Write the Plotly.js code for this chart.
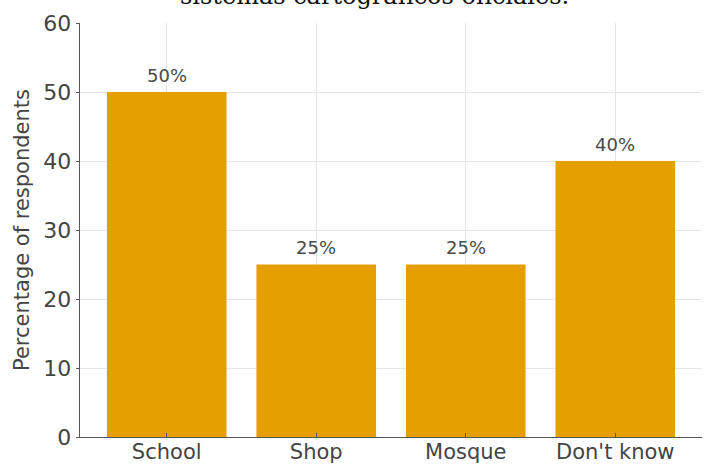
<!DOCTYPE html>
<html>
<head>
<meta charset="utf-8">
<script src="https://cdn.plot.ly/plotly-3.0.1.min.js"></script>
<style>
html,body{margin:0;padding:0;background:#fff;}
#chart{width:706px;height:465px;}
</style>
</head>
<body>
<div id="chart"></div>
<script>
const categories = ["School", "Shop", "Mosque", "Don't know"];
const percentages = [50, 25, 25, 40];
const barLabels = ["50%", "25%", "25%", "40%"];
const yTickValues = [0, 10, 20, 30, 40, 50, 60];
const captionText = "sistemas cartográficos oficiales.";

const barTrace = {
  type: "bar",
  x: categories,
  y: percentages,
  width: 0.8,
  marker: {color: "#E69F00", line: {width: 0}},
  hoverinfo: "skip"
};

const labelAnnotations = categories.map((c, i) => ({
  x: c, y: percentages[i], xref: "x", yref: "y",
  text: barLabels[i], showarrow: false,
  yanchor: "middle", yshift: 17,
  font: {family: "DejaVu Sans", size: 18, color: "#4a4a4a"}
}));

const captionAnnotation = {
  xref: "paper", yref: "paper", x: 0.4735, y: 1.026,
  xanchor: "center", yanchor: "bottom",
  text: captionText, showarrow: false,
  font: {family: "DejaVu Serif", size: 24, color: "#111"}
};

const layout = {
  width: 706, height: 465,
  margin: {l: 80, r: 4, t: 23, b: 28, pad: 0},
  paper_bgcolor: "#fff", plot_bgcolor: "#fff",
  showlegend: false,
  bargap: 0.2,
  xaxis: {
    type: "category",
    range: [-0.58, 3.58],
    showgrid: true, gridcolor: "#e6e6e6", gridwidth: 1,
    showline: true, linecolor: "#555", linewidth: 1.3,
    ticks: "inside", ticklen: 4, tickcolor: "#555",
    ticklabelstandoff: -5,
    tickfont: {family: "DejaVu Sans", size: 21, color: "#444"},
    zeroline: false
  },
  yaxis: {
    range: [0, 60],
    tickvals: yTickValues,
    showgrid: true, gridcolor: "#e6e6e6", gridwidth: 1,
    showline: true, linecolor: "#555", linewidth: 1.3,
    ticks: "outside", ticklen: 3, tickcolor: "#555",
    tickfont: {family: "DejaVu Sans", size: 22, color: "#444"},
    zeroline: false,
    title: {text: "Percentage of respondents", standoff: 8,
            font: {family: "DejaVu Sans", size: 21, color: "#444"}}
  },
  annotations: labelAnnotations.concat([captionAnnotation])
};

Plotly.newPlot("chart", [barTrace], layout, {staticPlot: true, displayModeBar: false});
</script>
</body>
</html>
